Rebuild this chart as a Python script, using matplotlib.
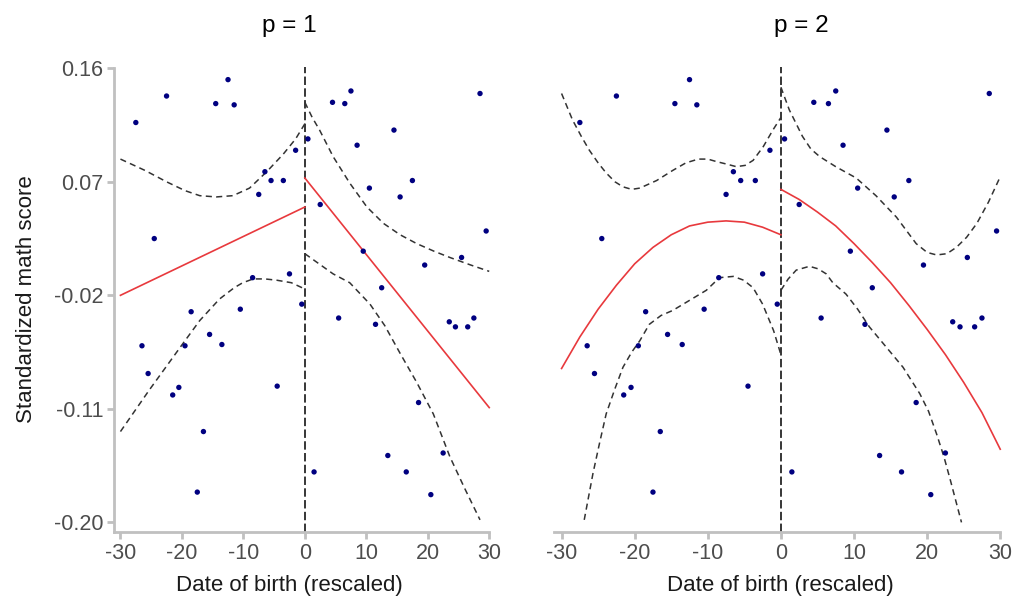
import matplotlib
matplotlib.use("Agg")
import matplotlib.pyplot as plt

plt.rcParams['font.family'] = ['Liberation Sans', 'DejaVu Sans']

# binned data (same in both panels)
bin_x = [-27.5, -26.5, -25.5, -24.5, -22.5, -21.5, -20.5, -19.5, -18.5, -17.5,
         -16.5, -15.5, -14.5, -13.5, -12.5, -11.5, -10.5, -8.5, -7.5, -6.5,
         -5.5, -4.5, -3.5, -2.5, -1.5, -0.5, 0.5, 1.5, 2.5, 4.5,
         5.5, 6.5, 7.5, 8.5, 9.5, 10.5, 11.5, 12.5, 13.5, 14.5,
         15.5, 16.5, 17.5, 18.5, 19.5, 20.5, 22.5, 23.5, 24.5, 25.5,
         26.5, 27.5, 28.5, 29.5]
bin_y = [0.117, -0.060, -0.082, 0.025, 0.138, -0.099, -0.093, -0.060, -0.033, -0.176,
         -0.128, -0.051, 0.132, -0.059, 0.151, 0.131, -0.031, -0.006, 0.060, 0.078,
         0.071, -0.092, 0.071, -0.003, 0.095, -0.027, 0.104, -0.160, 0.052, 0.133,
         -0.038, 0.132, 0.142, 0.099, 0.015, 0.065, -0.043, -0.014, -0.147, 0.111,
         0.058, -0.160, 0.071, -0.105, 0.004, -0.178, -0.145, -0.041, -0.045, 0.010,
         -0.045, -0.038, 0.140, 0.031]

# p = 1 fit and confidence bands
p1_fit_l_x = [-30, 0]
p1_fit_l_y = [-0.020, 0.050]
p1_fit_r_x = [0, 30]
p1_fit_r_y = [0.073, -0.109]
p1_up_l_x = [-30, -26, -22.5, -19.5, -17.1, -14.4, -11.7, -9.0, -6.2, -3.5, -1.5, 0]
p1_up_l_y = [0.088, 0.079, 0.070, 0.063, 0.059, 0.058, 0.059, 0.065, 0.078, 0.092, 0.104, 0.116]
p1_lo_l_x = [-30, -25.3, -20.1, -17.1, -13.9, -11.5, -10.1, -8.4, -6.5, -4.6, -2.2, 0]
p1_lo_l_y = [-0.128, -0.095, -0.060, -0.040, -0.023, -0.014, -0.010, -0.007, -0.007, -0.008, -0.010, -0.015]
p1_up_r_x = [0, 1.2, 2.4, 4.6, 7.3, 10.1, 12.8, 15.5, 18.2, 21, 23.6, 27, 30]
p1_up_r_y = [0.133, 0.121, 0.111, 0.090, 0.069, 0.050, 0.037, 0.028, 0.021, 0.015, 0.010, 0.004, -0.001]
p1_lo_r_x = [0, 2.3, 4.6, 7.3, 10.6, 13, 15.5, 18.2, 20.9, 23.6, 26, 28.5]
p1_lo_r_y = [0.013, 0.005, -0.003, -0.010, -0.027, -0.044, -0.066, -0.089, -0.114, -0.148, -0.173, -0.198]

# p = 2 fit and confidence bands
p2_fit_l_x = [-30, -27.5, -25, -22.5, -20, -17.5, -15, -12.5, -10, -7.5, -5, -2.5, 0]
p2_fit_l_y = [-0.078, -0.053, -0.031, -0.012, 0.005, 0.018, 0.028, 0.035, 0.038, 0.039, 0.038, 0.034, 0.028]
p2_fit_r_x = [0, 2.5, 5, 7.5, 10, 12.5, 15, 17.5, 20, 22.5, 25, 27.5, 30]
p2_fit_r_y = [0.064, 0.056, 0.046, 0.035, 0.021, 0.006, -0.010, -0.028, -0.047, -0.067, -0.089, -0.113, -0.142]
p2_up_l_x = [-30, -28.5, -27.3, -26.2, -25, -23.9, -22.7, -21.6, -20.4, -19.3, -17, -14.8,
             -13, -11.3, -10, -8.8, -7.4, -6.1, -4.9, -3.8, -2.4, -1.1, 0]
p2_up_l_y = [0.140, 0.119, 0.106, 0.095, 0.085, 0.077, 0.070, 0.066, 0.064, 0.065, 0.071, 0.079,
             0.085, 0.088, 0.088, 0.086, 0.084, 0.082, 0.083, 0.087, 0.098, 0.111, 0.121]
p2_lo_l_x = [-26.9, -25.7, -24.8, -23.9, -22.7, -21.6, -20.4, -19.3, -18.0, -16.4, -14.8,
             -12.5, -10.2, -8.4, -6.5, -5.1, -3.8, -2.5, -1.0, 0]
p2_lo_l_y = [-0.198, -0.161, -0.137, -0.114, -0.094, -0.077, -0.065, -0.056, -0.043, -0.036, -0.032,
             -0.024, -0.016, -0.006, -0.005, -0.008, -0.014, -0.027, -0.048, -0.067]
p2_up_r_x = [0, 1.15, 2.95, 4.1, 5.3, 7.5, 10.3, 13.0, 15.8, 18.5, 20, 21.3, 22.7, 24.0, 25.4, 26.8, 28.4, 30]
p2_up_r_y = [0.145, 0.127, 0.106, 0.096, 0.090, 0.082, 0.073, 0.059, 0.042, 0.021, 0.014, 0.012, 0.013, 0.018, 0.026, 0.037, 0.054, 0.074]
p2_lo_r_x = [0, 1, 2.1, 3.9, 5.1, 6.2, 7.1, 8.9, 10.5, 12.1, 14.4, 16.7, 19.0, 20.2, 21.3, 22.3, 23.2, 24.7]
p2_lo_r_y = [-0.016, -0.007, 0.000, 0.003, 0.001, -0.003, -0.010, -0.019, -0.031, -0.045, -0.061, -0.077, -0.098, -0.112, -0.130, -0.148, -0.167, -0.200]

yticks = [0.16, 0.07, -0.02, -0.11, -0.20]
xticks = [-30, -20, -10, 0, 10, 20, 30]

panels = [
    ("p = 1", p1_fit_l_x, p1_fit_l_y, p1_fit_r_x, p1_fit_r_y,
     [(p1_up_l_x, p1_up_l_y), (p1_lo_l_x, p1_lo_l_y), (p1_up_r_x, p1_up_r_y), (p1_lo_r_x, p1_lo_r_y)]),
    ("p = 2", p2_fit_l_x, p2_fit_l_y, p2_fit_r_x, p2_fit_r_y,
     [(p2_up_l_x, p2_up_l_y), (p2_lo_l_x, p2_lo_l_y), (p2_up_r_x, p2_up_r_y), (p2_lo_r_x, p2_lo_r_y)]),
]

fig = plt.figure(figsize=(10.17, 6.01), dpi=100)
ax1 = fig.add_axes([0.1124, 0.1153, 0.3747, 0.7732])
ax2 = fig.add_axes([0.5450, 0.1153, 0.4457, 0.7732])

spine_col = '#c0c0c0'
tick_col = '#4d4d4d'
ylo, yhi = -0.2074, 0.161

for ax, (title, flx, fly, frx, fry, bands) in zip([ax1, ax2], panels):
    ax.axvline(0, color='black', lw=1.1, ls=(0, (5.5, 2.2)), zorder=1)
    for bx, by in bands:
        ax.plot(bx, by, color='#333333', lw=1.1, ls=(0, (4, 2.8)), zorder=2)
    ax.plot(flx, fly, color='#e8393d', lw=1.2, zorder=3)
    ax.plot(frx, fry, color='#e8393d', lw=1.2, zorder=3)
    ax.scatter(bin_x, bin_y, s=15, color='#000080', edgecolors='none', zorder=4)

    ax.set_xlim(-31, 31)
    ax.set_ylim(ylo, yhi)
    ax.set_xticks(xticks)
    ax.set_xticklabels([str(t) for t in xticks], fontsize=15.5, color=tick_col)
    ax.spines['top'].set_visible(False)
    ax.spines['right'].set_visible(False)
    ax.spines['bottom'].set_color(spine_col)
    ax.spines['bottom'].set_linewidth(2.0)
    ax.spines['bottom'].set_bounds(-31, 30)
    ax.spines['left'].set_color(spine_col)
    ax.spines['left'].set_linewidth(2.0)
    ax.spines['left'].set_bounds(ylo, 0.16)
    ax.tick_params(axis='both', color=spine_col, width=2.0, length=5, pad=3)

ax1.set_yticks(yticks)
ax1.set_yticklabels(["%.2f" % t for t in yticks], fontsize=15.5, color=tick_col)
ax1.set_ylabel("Standardized math score", fontsize=16, color='#1a1a1a', labelpad=12)

ax2.spines['left'].set_visible(False)
ax2.set_yticks([])

fig.text(289 / 1017, 1 - 26 / 601, "p = 1", fontsize=17.5, ha='center', va='center')
fig.text(801 / 1017, 1 - 26 / 601, "p = 2", fontsize=17.5, ha='center', va='center')
fig.text(289 / 1017, 1 - 585 / 601, "Date of birth (rescaled)", fontsize=16, ha='center', va='center', color='#1a1a1a')
fig.text(780 / 1017, 1 - 585 / 601, "Date of birth (rescaled)", fontsize=16, ha='center', va='center', color='#1a1a1a')

fig.savefig("out.png", dpi=100)
